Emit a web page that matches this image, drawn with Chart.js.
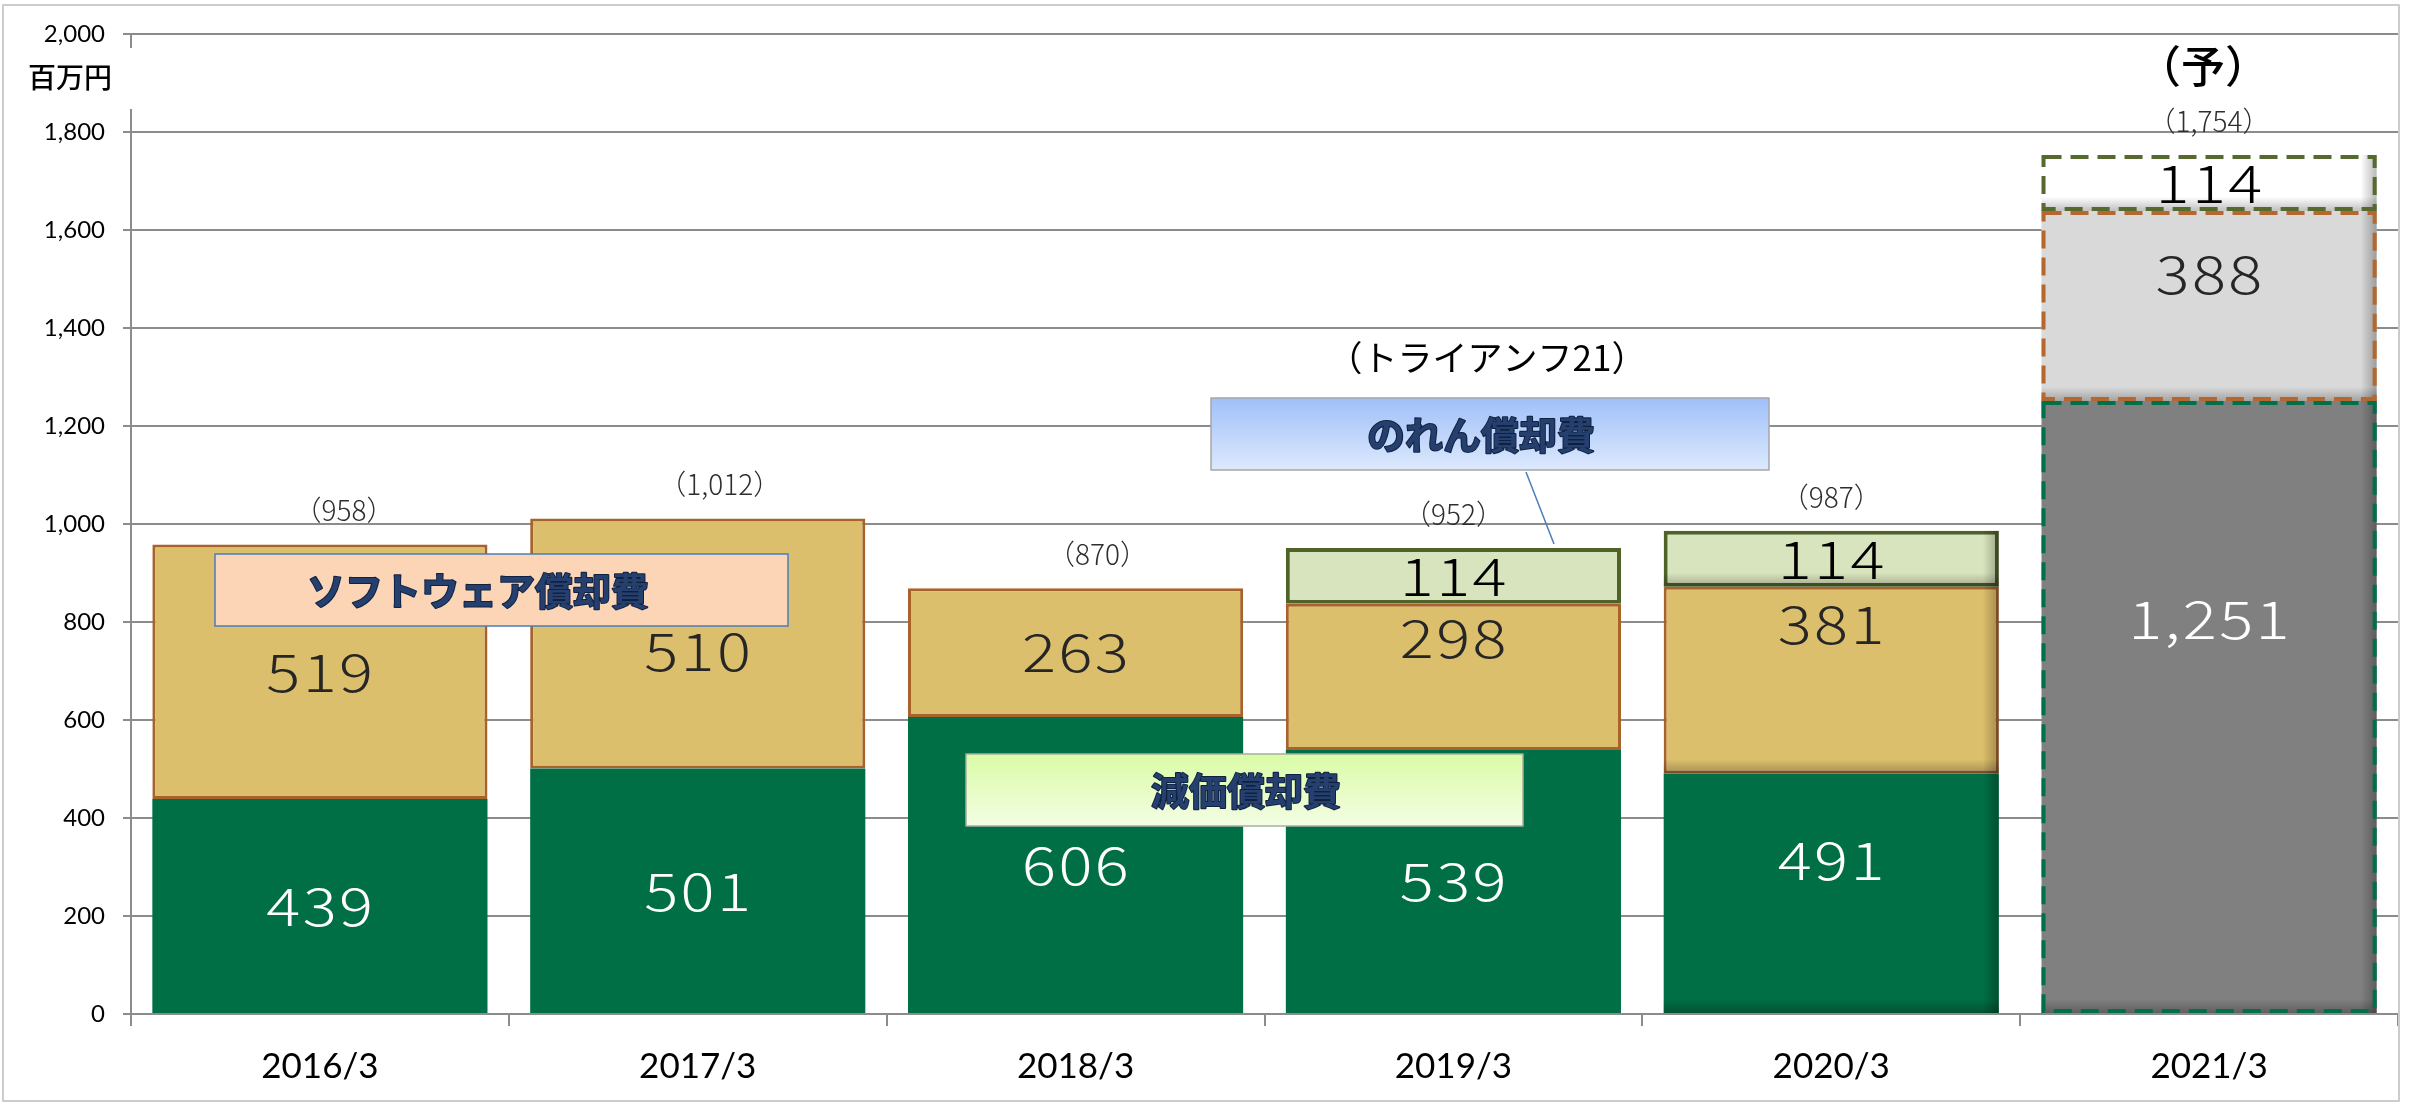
<!DOCTYPE html>
<html>
<head>
<meta charset="utf-8">
<script src="https://cdn.jsdelivr.net/npm/chart.js@4.4.0/dist/chart.umd.min.js"></script>
<style>
  html, body { margin: 0; padding: 0; background: #fff; }
  #wrap { width: 2412px; height: 1104px; }
</style>
</head>
<body>
<div id="wrap"><canvas id="amortChart" width="2412" height="1104"></canvas></div>
<script>
// fiscal years (March year-end), last one is the forecast
const years = ['2016/3', '2017/3', '2018/3', '2019/3', '2020/3', '2021/3'];
const depreciation = [439, 501, 606, 539, 491, 1251];   // 減価償却費
const software = [519, 510, 263, 298, 381, 388];        // ソフトウェア償却費
const goodwill = [null, null, null, 114, 114, 114];     // のれん償却費
const totals = [958, 1012, 870, 952, 987, 1754];
const yMax = 2000;
const yStep = 200;

const forecastIdx = years.length - 1;
const shadedBars = [4, 5];

// label placement tweaks (px)
const nudge = {
  dep: [0, 0, 0, 0, -33, -88],
  sw: [0, 8, 0, -39, -56, -32],
  gw: [0, 0, 0, 0, 0, 0]
};
const totalNudgeX = [24, 22, 22, 0, 0, 0];

const numFont = '300 52px "Noto Sans CJK JP", "Noto Sans", sans-serif';
const numStretch = 1.22;
const jpFont = '"Noto Sans CJK JP", "Noto Sans", sans-serif';
const axisFont = 'Lato, "Liberation Sans", sans-serif';

function perBar(normal, forecast) {
  return years.map((_, i) => i === forecastIdx ? forecast : normal);
}

const dashColors = ['#00704A', '#B4682E', '#56692E'];
const labelColors = [
  perBar('#FFFFFF', '#FFFFFF'),
  perBar('#262626', '#262626'),
  perBar('#000000', '#000000')
];
const nudges = [nudge.dep, nudge.sw, nudge.gw];

function fmt(v) {
  return v.toLocaleString('en-US');
}

// dashed outlines and inner shading on the bars
const barExtras = {
  id: 'barExtras',
  afterDatasetsDraw(chart) {
    const ctx = chart.ctx;
    chart.data.datasets.forEach((ds, di) => {
      const meta = chart.getDatasetMeta(di);
      meta.data.forEach((el, i) => {
        if (ds.data[i] == null) return;
        const left = el.x - el.width / 2;
        const right = el.x + el.width / 2;
        const top = el.y;
        const bottom = el.base;
        if (shadedBars.includes(i)) {
          ctx.save();
          let g = ctx.createLinearGradient(right - 16, 0, right, 0);
          g.addColorStop(0, 'rgba(0,0,0,0)');
          g.addColorStop(1, 'rgba(0,0,0,0.28)');
          ctx.fillStyle = g;
          ctx.fillRect(right - 16, top, 16, bottom - top);
          g = ctx.createLinearGradient(0, bottom - 14, 0, bottom);
          g.addColorStop(0, 'rgba(0,0,0,0)');
          g.addColorStop(1, 'rgba(0,0,0,0.25)');
          ctx.fillStyle = g;
          ctx.fillRect(left, bottom - 14, right - left, 14);
          ctx.restore();
        }
        if (i === forecastIdx) {
          const lw = 4;
          ctx.save();
          ctx.strokeStyle = dashColors[di];
          ctx.lineWidth = lw;
          ctx.setLineDash([18, 9]);
          ctx.strokeRect(left + lw / 2, top + lw / 2, right - left - lw, bottom - top - lw);
          ctx.restore();
        }
      });
    });
  }
};

// segment values, totals and callouts
const annotations = {
  id: 'annotations',
  afterDraw(chart) {
    const ctx = chart.ctx;
    ctx.save();
    ctx.textAlign = 'center';
    ctx.textBaseline = 'middle';

    // numbers inside the segments, drawn slightly widened
    ctx.font = numFont;
    ctx.letterSpacing = '2px';
    chart.data.datasets.forEach((ds, di) => {
      const meta = chart.getDatasetMeta(di);
      meta.data.forEach((el, i) => {
        const v = ds.data[i];
        if (v == null) return;
        ctx.save();
        ctx.translate(el.x + 1, (el.y + el.base) / 2 + nudges[di][i]);
        ctx.scale(numStretch, 1);
        ctx.fillStyle = labelColors[di][i];
        ctx.fillText(fmt(v), 0, 0);
        ctx.restore();
      });
    });
    ctx.letterSpacing = '0px';

    // totals above each stack
    ctx.font = '300 28px ' + jpFont;
    ctx.fillStyle = '#2E2E2E';
    totals.forEach((t, i) => {
      let top = Infinity, x = 0;
      chart.data.datasets.forEach((ds, di) => {
        if (ds.data[i] == null) return;
        const el = chart.getDatasetMeta(di).data[i];
        x = el.x;
        top = Math.min(top, el.y);
      });
      ctx.fillText('（' + fmt(t) + '）', x + totalNudgeX[i], top - 34);
    });

    // forecast mark and acquisition note
    const xs = chart.scales.x;
    ctx.fillStyle = '#000';
    ctx.font = '500 44px ' + jpFont;
    ctx.fillText('（予）', xs.getPixelForValue(forecastIdx) - 6, 66);
    ctx.font = '35px ' + jpFont;
    ctx.fillText('（トライアンフ21）', 1487, 358);

    // callout boxes
    function box(x, y, w, h, fill, stroke, text, tx) {
      ctx.fillStyle = fill;
      ctx.fillRect(x, y, w, h);
      ctx.strokeStyle = stroke;
      ctx.lineWidth = 1.5;
      ctx.strokeRect(x, y, w, h);
      ctx.font = 'bold 38px ' + jpFont;
      ctx.lineJoin = 'round';
      ctx.lineWidth = 2;
      ctx.strokeStyle = '#10213F';
      ctx.strokeText(text, tx, y + h / 2 + 1);
      ctx.fillStyle = '#25406F';
      ctx.fillText(text, tx, y + h / 2 + 1);
    }

    box(215, 554, 573, 72, '#FBD5B6', '#4A7EBB', 'ソフトウェア償却費', 478);

    let g = ctx.createLinearGradient(0, 754, 0, 826);
    g.addColorStop(0, '#DAFCA6');
    g.addColorStop(1, '#F3FDE4');
    box(966, 754, 557, 72, g, '#A8AFA0', '減価償却費', 1246);

    ctx.strokeStyle = '#4A7EBB';
    ctx.lineWidth = 1.5;
    ctx.beginPath();
    ctx.moveTo(1526, 472);
    ctx.lineTo(1554, 544);
    ctx.stroke();

    g = ctx.createLinearGradient(0, 398, 0, 470);
    g.addColorStop(0, '#9FC0F9');
    g.addColorStop(1, '#DDE9FD');
    box(1211, 398, 558, 72, g, '#A6A6A6', 'のれん償却費', 1481);

    // unit label sits in a gap of the value axis
    ctx.fillStyle = '#fff';
    ctx.fillRect(118, 48, 26, 61);
    ctx.fillStyle = '#000';
    ctx.font = '500 28px ' + jpFont;
    ctx.fillText('百万円', 70, 77);

    // outer frame
    ctx.strokeStyle = '#CCCCCC';
    ctx.lineWidth = 2;
    ctx.strokeRect(3, 5, 2396, 1096);
    ctx.restore();
  }
};

const chart = new Chart(document.getElementById('amortChart'), {
  type: 'bar',
  data: {
    labels: years,
    datasets: [
      {
        label: '減価償却費',
        data: depreciation,
        backgroundColor: perBar('#006F45', '#808080'),
        borderWidth: 0
      },
      {
        label: 'ソフトウェア償却費',
        data: software,
        backgroundColor: perBar('#DCBF6C', '#D9D9D9'),
        borderColor: '#A8632B',
        borderWidth: perBar(3, 0),
        borderSkipped: false
      },
      {
        label: 'のれん償却費',
        data: goodwill,
        backgroundColor: perBar('#D8E4BD', '#FFFFFF'),
        borderColor: '#4F6228',
        borderWidth: perBar(4, 0),
        borderSkipped: false
      }
    ]
  },
  options: {
    responsive: false,
    animation: false,
    devicePixelRatio: 1,
    layout: { padding: { left: 0, top: 34, right: 14, bottom: 0 } },
    datasets: { bar: { barPercentage: 0.887, categoryPercentage: 1 } },
    plugins: {
      legend: { display: false },
      tooltip: { enabled: false }
    },
    scales: {
      x: {
        stacked: true,
        afterFit(scale) { scale.height = 90; },
        grid: {
          drawOnChartArea: false,
          drawTicks: true,
          tickLength: 12,
          color: '#8C8C8C',
          lineWidth: 2,
          offset: true
        },
        border: { display: true, color: '#8C8C8C', width: 2 },
        ticks: {
          padding: 20,
          color: '#000',
          font: { family: axisFont, size: 35 }
        }
      },
      y: {
        stacked: true,
        min: 0,
        max: yMax,
        afterFit(scale) { scale.width = 131; },
        grid: { color: '#8C8C8C', lineWidth: 2, tickLength: 8 },
        border: { display: true, color: '#8C8C8C', width: 2 },
        ticks: {
          stepSize: yStep,
          padding: 18,
          color: '#000',
          font: { family: axisFont, size: 24 },
          callback: v => fmt(v)
        }
      }
    }
  },
  plugins: [barExtras, annotations]
});
</script>
</body>
</html>
